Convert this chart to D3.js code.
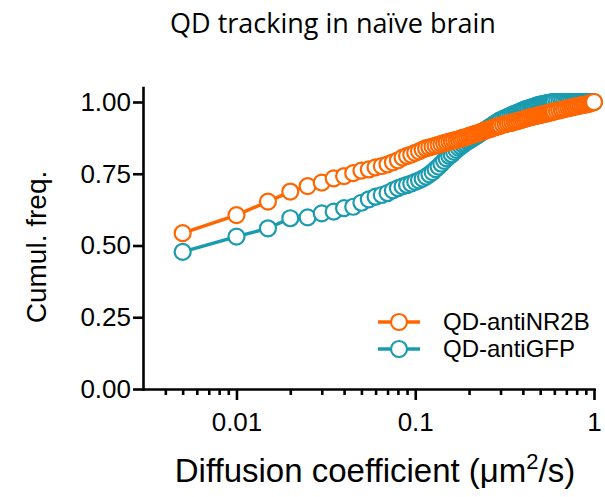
<!DOCTYPE html>
<html>
<head>
<meta charset="utf-8">
<script src="https://cdn.jsdelivr.net/npm/d3@7"></script>
<style>
  body { margin: 0; background: #fff; }
  svg { display: block; }
  .axis path, .axis line { stroke: #000; stroke-width: 2.6px; }
  .axis text { font-family: "Liberation Sans", Arial, sans-serif; font-size: 26px; fill: #000; }
</style>
</head>
<body>
<svg width="605" height="497"></svg>
<script>
// diffusion coefficient bins (um2/s)
var diffCoef = [
  0.005, 0.010, 0.015, 0.020, 0.025, 0.030, 0.035, 0.040, 0.045, 0.050,
  0.055, 0.060, 0.065, 0.070, 0.075, 0.080, 0.085, 0.090, 0.095, 0.100,
  0.105, 0.110, 0.115, 0.120, 0.125, 0.130, 0.135, 0.140, 0.145, 0.150,
  0.155, 0.160, 0.165, 0.170, 0.175, 0.180, 0.185, 0.190, 0.195, 0.200,
  0.205, 0.210, 0.215, 0.220, 0.225, 0.230, 0.235, 0.240, 0.245, 0.250,
  0.255, 0.260, 0.265, 0.270, 0.275, 0.280, 0.285, 0.290, 0.295, 0.300,
  0.31, 0.32, 0.33, 0.34, 0.35, 0.36, 0.37, 0.38, 0.39, 0.40,
  0.41, 0.42, 0.43, 0.44, 0.45, 0.46, 0.47, 0.48, 0.49, 0.50,
  0.51, 0.52, 0.53, 0.54, 0.55, 0.56, 0.57, 0.58, 0.59, 0.60,
  0.62, 0.64, 0.66, 0.68, 0.70, 0.72, 0.74, 0.76, 0.78, 0.80,
  0.82, 0.84, 0.86, 0.88, 0.90, 0.92, 0.94, 0.96, 0.98, 1.00
];

var antiNR2B = [
  .543, .606, .653, .688, .707, .719, .734, .742, .752, .761,
  .765, .772, .777, .783, .790, .797, .806, .812, .817, .823,
  .828, .834, .839, .842, .845, .848, .851, .854, .857, .859,
  .862, .864, .866, .868, .870, .873, .875, .877, .879, .882,
  .884, .886, .888, .890, .892, .894, .896, .898, .900, .902,
  .904, .905, .907, .909, .911, .912, .914, .915, .917, .918,
  .921, .923, .925, .927, .929, .931, .933, .935, .937, .939,
  .941, .943, .945, .947, .948, .950, .951, .952, .954, .955,
  .956, .958, .959, .960, .961, .963, .964, .965, .966, .967,
  .969, .971, .973, .975, .977, .979, .980, .982, .984, .985,
  .987, .988, .989, .990, .991, .993, .994, .996, .998, 1.000
];

var antiGFP = [
  .478, .531, .560, .595, .598, .612, .618, .630, .635, .649,
  .661, .670, .676, .683, .692, .700, .706, .711, .716, .722,
  .727, .733, .740, .748, .756, .766, .775, .785, .795, .804,
  .812, .818, .826, .833, .840, .846, .852, .857, .862, .866,
  .870, .874, .878, .882, .886, .890, .894, .898, .901, .905,
  .908, .912, .915, .918, .922, .925, .928, .931, .934, .937,
  .941, .945, .949, .952, .956, .959, .962, .965, .968, .971,
  .974, .976, .978, .980, .982, .984, .986, .988, .990, .991,
  .992, .993, .994, .995, .996, .997, .998, .999, 1.000, 1.000,
  1.000, 1.000, 1.000, 1.000, 1.000, 1.000, 1.000, 1.000, 1.000, 1.000,
  1.000, 1.000, 1.000, 1.000, 1.000, 1.000, 1.000, 1.000, 1.000, 1.000
];

var seriesNames = ["QD-antiNR2B", "QD-antiGFP"];
var seriesColors = ["#ff6600", "#1a9bb0"];
var xMajorTicks = [0.01, 0.1, 1];
var xMinorTicks = [0.004, 0.005, 0.006, 0.007, 0.008, 0.009,
                   0.02, 0.03, 0.04, 0.05, 0.06, 0.07, 0.08, 0.09,
                   0.2, 0.3, 0.4, 0.5, 0.6, 0.7, 0.8, 0.9];
var yTicks = [0, 0.25, 0.5, 0.75, 1];

var svg = d3.select("svg");

var x = d3.scaleLog()
    .domain([0.003, 1])
    .range([143, 594]);

var y = d3.scaleLinear()
    .domain([0, 1.05])
    .range([389, 87.65]);

// title
svg.append("text")
    .attr("x", 333)
    .attr("y", 33)
    .attr("text-anchor", "middle")
    .attr("font-family", "'Open Sans', sans-serif")
    .attr("font-size", 27)
    .text("QD tracking in na\u00efve brain");

// axes
svg.append("g")
    .attr("class", "axis")
    .attr("transform", "translate(0," + y(0) + ")")
    .call(d3.axisBottom(x).tickValues(xMinorTicks).tickSize(6).tickSizeOuter(0).tickFormat(""))
    .select(".domain").remove();

svg.append("g")
    .attr("class", "axis")
    .attr("transform", "translate(0," + y(0) + ")")
    .call(d3.axisBottom(x).tickValues(xMajorTicks).tickSize(11).tickSizeOuter(0).tickPadding(13)
        .tickFormat(function(d) { return d3.format("")(d); }));

svg.append("g")
    .attr("class", "axis")
    .attr("transform", "translate(" + x(0.003) + ",0)")
    .call(d3.axisLeft(y).tickValues(yTicks).tickSize(10).tickSizeOuter(0).tickPadding(2)
        .tickFormat(d3.format(".2f")));

svg.selectAll(".axis .domain").attr("stroke-linecap", "square");

// axis titles
svg.append("text")
    .attr("transform", "translate(46,247) rotate(-90)")
    .attr("text-anchor", "middle")
    .attr("font-family", "'Liberation Sans', Arial, sans-serif")
    .attr("font-size", 28)
    .text("Cumul. freq.");

var xTitle = svg.append("text")
    .attr("x", 375)
    .attr("y", 482)
    .attr("text-anchor", "middle")
    .attr("font-family", "'Liberation Sans', Arial, sans-serif")
    .attr("font-size", 33);
xTitle.append("tspan").text("Diffusion coefficient (\u03bcm");
xTitle.append("tspan").attr("dy", -13).attr("font-size", 22).text("2");
xTitle.append("tspan").attr("dy", 13).text("/s)");

// series: GFP underneath, NR2B on top
var series = [
  {name: seriesNames[1], color: seriesColors[1], values: antiGFP},
  {name: seriesNames[0], color: seriesColors[0], values: antiNR2B}
];

var line = d3.line()
    .x(function(d) { return x(d[0]); })
    .y(function(d) { return y(d[1]); });

series.forEach(function(s) {
  var pts = diffCoef.map(function(d, i) { return [d, s.values[i]]; });
  var g = svg.append("g");
  g.append("path")
      .datum(pts)
      .attr("fill", "none")
      .attr("stroke", s.color)
      .attr("stroke-width", 3.5)
      .attr("d", line);
  g.selectAll("circle")
      .data(pts)
      .enter().append("circle")
      .attr("cx", function(d) { return x(d[0]); })
      .attr("cy", function(d) { return y(d[1]); })
      .attr("r", 8)
      .attr("fill", "#fff")
      .attr("stroke", s.color)
      .attr("stroke-width", 2.2);
});

// legend
var legend = svg.append("g")
    .selectAll("g")
    .data(seriesNames)
    .enter().append("g")
    .attr("transform", function(d, i) { return "translate(378," + (322 + i * 27) + ")"; });

legend.append("line")
    .attr("x1", 0).attr("x2", 42)
    .attr("stroke", function(d, i) { return seriesColors[i]; })
    .attr("stroke-width", 3.5);

legend.append("circle")
    .attr("cx", 21)
    .attr("r", 8)
    .attr("fill", "#fff")
    .attr("stroke", function(d, i) { return seriesColors[i]; })
    .attr("stroke-width", 2.2);

legend.append("text")
    .attr("x", 65)
    .attr("dy", "0.35em")
    .attr("font-family", "'Liberation Sans', Arial, sans-serif")
    .attr("font-size", 24)
    .text(function(d) { return d; });
</script>
</body>
</html>
